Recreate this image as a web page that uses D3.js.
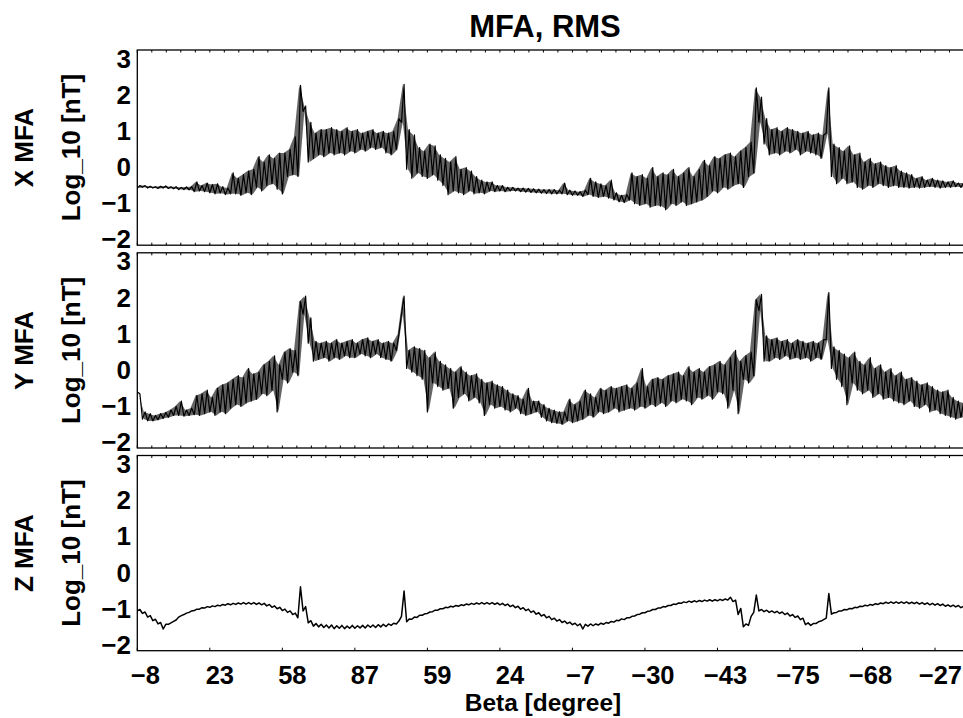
<!DOCTYPE html>
<html><head><meta charset="utf-8">
<script src="https://cdn.jsdelivr.net/npm/d3@7"></script>
<style>html,body{margin:0;padding:0;background:#fff;overflow:hidden}</style>
</head><body><svg id="c" width="963" height="718"></svg>
<script>
// ---------------- data ----------------
const chartTitle = "MFA, RMS";
const xAxisTitle = "Beta [degree]";
const yAxisUnit = "Log_10 [nT]";
const panelNames = ["X MFA", "Y MFA", "Z MFA"];
const betaLabels = ["−8","23","58","87","59","24","−7","−30","−43","−75","−68","−27"];
const yTicks = [-2, -1, 0, 1, 2, 3];
const sampleStep = 1 / 14; // tick units between samples; each sample has a low/high reading

const xMfaLow = [-0.62,-0.60,-0.62,-0.62,-0.63,-0.62,-0.63,-0.64,-0.66,-0.66,
-0.67,-0.72,-0.70,-0.72,-0.75,-0.78,-0.76,-0.80,-0.78,-0.78,
-0.82,-0.75,-0.80,-0.60,-0.70,-0.55,-0.50,-0.65,-0.78,-0.30,
-0.25,-0.30,1.50,0.10,0.20,0.30,0.25,0.35,0.30,0.35,
0.30,0.40,0.35,0.45,0.40,0.50,0.45,0.50,0.35,0.30,
0.45,1.20,-0.10,-0.35,-0.20,-0.30,-0.35,-0.25,-0.40,-0.55,
-0.80,-0.70,-0.75,-0.80,-0.70,-0.78,-0.75,-0.78,-0.70,-0.72,
-0.70,-0.72,-0.70,-0.70,-0.72,-0.73,-0.74,-0.75,-0.76,-0.77,
-0.78,-0.78,-0.78,-0.80,-0.82,-0.82,-0.85,-0.80,-0.85,-0.88,
-0.85,-0.90,-0.95,-1.00,-1.02,-0.95,-1.05,-1.10,-1.05,-1.15,
-1.10,-1.12,-1.22,-1.05,-1.10,-1.00,-1.10,-1.05,-1.00,-0.95,
-0.85,-0.70,-0.75,-0.60,-0.65,-0.55,-0.50,-0.60,-0.30,-0.20,
1.20,0.60,0.30,0.35,0.30,0.40,0.35,0.45,0.30,0.40,
0.35,0.30,0.20,0.90,-0.30,-0.50,-0.35,-0.50,-0.45,-0.60,
-0.65,-0.55,-0.60,-0.50,-0.55,-0.60,-0.55,-0.60,-0.60,-0.62,
-0.60,-0.62,-0.60,-0.58,-0.60,-0.62,-0.60,-0.60,-0.58,-0.60,
-0.58];
const xMfaHigh = [-0.55,-0.55,-0.57,-0.58,-0.57,-0.56,-0.58,-0.58,-0.60,-0.59,
-0.58,-0.45,-0.55,-0.48,-0.52,-0.50,-0.58,-0.62,-0.20,-0.35,
-0.25,-0.15,-0.10,0.25,0.10,0.30,0.20,0.35,0.35,0.45,
0.80,2.22,1.65,1.20,0.90,1.00,1.00,1.05,1.00,0.95,
1.05,0.95,1.00,0.90,0.95,1.00,0.90,0.95,0.90,0.95,
1.30,2.25,1.00,0.85,0.50,0.40,0.60,0.55,0.30,0.20,
0.10,0.25,-0.10,-0.05,-0.15,-0.30,-0.40,-0.45,-0.45,-0.55,
-0.55,-0.60,-0.60,-0.62,-0.62,-0.63,-0.64,-0.65,-0.66,-0.66,
-0.66,-0.68,-0.48,-0.68,-0.70,-0.72,-0.68,-0.35,-0.45,-0.50,
-0.55,-0.40,-0.75,-0.82,-0.80,-0.20,-0.30,-0.25,-0.35,-0.05,
-0.30,-0.20,-0.25,-0.10,-0.30,-0.20,-0.05,-0.30,-0.10,0.15,
0.00,0.25,0.20,0.30,0.35,0.25,0.40,0.50,0.65,2.15,
1.90,1.30,1.00,1.05,0.95,1.05,1.00,0.95,0.90,0.95,
0.85,0.90,0.85,2.15,0.60,0.50,0.40,0.55,0.30,0.35,
0.10,0.20,0.05,0.10,0.00,-0.05,0.00,-0.15,-0.20,-0.25,
-0.35,-0.30,-0.40,-0.35,-0.40,-0.42,-0.45,-0.42,-0.48,-0.48,
-0.50];

const yMfaLow = [-0.65,-1.40,-1.45,-1.45,-1.42,-1.38,-1.35,-1.30,-1.30,-1.32,
-1.30,-1.28,-1.30,-1.25,-1.20,-1.30,-1.20,-1.25,-1.10,-1.00,
-1.05,-0.95,-0.90,-0.85,-0.70,-0.75,-0.60,-1.20,-0.30,-0.40,
-0.10,-0.20,1.50,0.70,0.20,0.25,0.30,0.20,0.30,0.25,
0.35,0.30,0.30,0.40,0.35,0.30,0.40,0.30,0.25,0.20,
0.50,1.50,0.00,-0.10,-0.20,-0.30,-1.20,-0.40,-0.50,-0.60,
-0.55,-1.10,-0.80,-0.70,-0.90,-0.80,-0.95,-1.30,-1.00,-1.10,
-1.05,-1.15,-1.20,-1.10,-1.25,-1.30,-1.25,-1.20,-1.35,-1.45,
-1.50,-1.52,-1.55,-1.45,-1.50,-1.45,-1.40,-1.30,-1.35,-1.20,
-1.25,-1.20,-1.10,-1.20,-1.15,-1.10,-1.15,-1.05,-1.10,-1.00,
-1.05,-0.95,-1.05,-0.90,-0.95,-0.85,-0.90,-1.00,-0.80,-0.85,
-0.75,-0.85,-0.65,-0.70,-1.10,-0.60,-1.25,-0.30,-0.40,-0.20,
1.60,0.20,0.20,0.30,0.25,0.35,0.25,0.30,0.25,0.30,
0.20,0.30,0.25,0.80,0.00,-0.30,-0.50,-1.00,-0.40,-0.60,
-0.70,-0.60,-0.80,-0.70,-0.85,-0.80,-0.90,-0.95,-1.00,-0.90,
-1.05,-1.10,-1.00,-1.20,-1.15,-1.25,-1.30,-1.35,-1.40,-1.35,
-1.40];
const yMfaHigh = [-0.70,-1.20,-1.25,-1.30,-1.25,-1.22,-1.15,-1.05,-0.90,-1.15,
-1.10,-0.75,-0.70,-0.60,-0.80,-0.55,-0.45,-0.40,-0.30,-0.20,
-0.25,0.00,-0.15,-0.10,0.10,0.20,0.35,0.10,0.45,0.55,
0.50,1.85,2.00,1.40,0.75,0.70,0.75,0.70,0.80,0.70,
0.75,0.80,0.70,0.80,0.85,0.75,0.80,0.70,0.75,0.70,
0.95,2.00,0.50,0.60,0.55,0.50,0.30,0.45,0.20,0.10,
0.00,-0.10,0.05,-0.10,-0.20,-0.15,-0.30,-0.40,-0.35,-0.45,
-0.50,-0.60,-0.70,-0.75,-0.85,-0.55,-0.90,-0.90,-1.00,-1.10,
-1.15,-1.20,-1.20,-0.85,-1.00,-0.90,-0.60,-0.70,-0.80,-0.55,
-0.60,-0.50,-0.55,-0.50,-0.45,-0.55,-0.40,0.00,-0.50,-0.30,
-0.25,-0.30,-0.20,-0.15,-0.10,-0.20,0.05,-0.10,0.00,-0.10,
0.05,0.10,0.20,0.10,0.30,0.50,0.20,0.35,0.45,1.90,
2.05,0.90,0.80,0.85,0.75,0.80,0.70,0.80,0.75,0.70,
0.75,0.70,0.80,2.10,0.60,0.50,0.40,0.30,0.45,0.20,
0.10,0.30,0.00,0.10,-0.10,0.00,-0.20,-0.10,-0.30,-0.25,
-0.35,-0.45,-0.40,-0.50,-0.60,-0.65,-0.60,-0.80,-0.90,-0.95,
-1.00];

const zMfaLow = [-1.10,-1.17,-1.27,-1.37,-1.46,-1.60,-1.47,-1.39,-1.27,-1.20,
-1.14,-1.09,-1.05,-1.02,-1.00,-0.98,-0.96,-0.94,-0.93,-0.92,
-0.91,-0.91,-0.91,-0.92,-0.93,-0.96,-1.00,-1.04,-1.09,-1.14,
-1.20,-1.29,-1.10,-1.43,-1.52,-1.54,-1.56,-1.57,-1.59,-1.58,
-1.59,-1.58,-1.58,-1.57,-1.57,-1.55,-1.56,-1.54,-1.53,-1.50,
-1.46,-1.25,-1.40,-1.33,-1.28,-1.22,-1.17,-1.12,-1.08,-1.04,
-1.01,-0.99,-0.97,-0.95,-0.93,-0.92,-0.91,-0.91,-0.91,-0.92,
-0.93,-0.95,-0.98,-1.01,-1.05,-1.09,-1.14,-1.19,-1.24,-1.29,
-1.34,-1.38,-1.42,-1.45,-1.48,-1.51,-1.60,-1.52,-1.51,-1.49,
-1.47,-1.44,-1.41,-1.37,-1.34,-1.29,-1.24,-1.19,-1.15,-1.10,
-1.06,-1.02,-0.99,-0.95,-0.92,-0.89,-0.87,-0.86,-0.85,-0.84,
-0.83,-0.83,-0.82,-0.81,-0.80,-0.84,-1.20,-1.54,-1.50,-1.14,
-1.10,-1.12,-1.14,-1.15,-1.17,-1.20,-1.24,-1.28,-1.34,-1.48,
-1.50,-1.45,-1.38,-1.30,-1.19,-1.14,-1.10,-1.07,-1.04,-1.01,
-0.98,-0.96,-0.94,-0.92,-0.90,-0.89,-0.89,-0.89,-0.89,-0.90,
-0.90,-0.91,-0.92,-0.93,-0.94,-0.95,-0.97,-0.98,-0.99,-1.01,
-1.02];
const zMfaHigh = [-1.06,-1.13,-1.23,-1.33,-1.42,-1.47,-1.43,-1.35,-1.23,-1.16,
-1.10,-1.05,-1.01,-0.98,-0.96,-0.94,-0.92,-0.90,-0.89,-0.88,
-0.87,-0.87,-0.87,-0.88,-0.89,-0.92,-0.96,-1.00,-1.05,-1.10,
-1.16,-0.43,-0.98,-1.37,-1.45,-1.47,-1.49,-1.49,-1.51,-1.50,
-1.52,-1.50,-1.51,-1.50,-1.49,-1.49,-1.48,-1.47,-1.46,-1.44,
-1.38,-0.55,-1.32,-1.27,-1.22,-1.18,-1.13,-1.08,-1.04,-1.00,
-0.97,-0.95,-0.93,-0.91,-0.89,-0.88,-0.87,-0.87,-0.87,-0.88,
-0.89,-0.91,-0.94,-0.97,-1.01,-1.05,-1.10,-1.15,-1.20,-1.25,
-1.30,-1.34,-1.38,-1.41,-1.44,-1.46,-1.47,-1.46,-1.46,-1.44,
-1.42,-1.39,-1.36,-1.32,-1.29,-1.25,-1.20,-1.15,-1.11,-1.06,
-1.02,-0.98,-0.95,-0.91,-0.88,-0.85,-0.83,-0.82,-0.81,-0.80,
-0.79,-0.79,-0.78,-0.77,-0.72,-0.80,-1.03,-1.46,-1.25,-0.66,
-1.06,-1.08,-1.10,-1.11,-1.13,-1.16,-1.20,-1.24,-1.30,-1.43,
-1.45,-1.40,-1.34,-0.62,-1.15,-1.10,-1.06,-1.03,-1.00,-0.97,
-0.94,-0.92,-0.90,-0.88,-0.86,-0.85,-0.85,-0.85,-0.85,-0.86,
-0.86,-0.87,-0.88,-0.89,-0.90,-0.91,-0.93,-0.94,-0.95,-0.97,
-0.98];

const panelSeries = [[xMfaLow, xMfaHigh], [yMfaLow, yMfaHigh], [zMfaLow, zMfaHigh]];

// ---------------- drawing ----------------
const svg = d3.select("#c");
const font = "'Liberation Sans', Arial, Helvetica, sans-serif";
const plotLeft = 137.3, tickSpacing = 72.52;
const x = d3.scaleLinear().domain([0, 12]).range([plotLeft, plotLeft + tickSpacing * 12]);
const panelTops = [50, 252.8, 455.5];
const panelH = 195.2;
const fmt = v => v < 0 ? "−" + Math.abs(v) : String(v);

svg.append("text").attr("x", 545).attr("y", 37).attr("text-anchor", "middle")
  .attr("font-family", font).attr("font-weight", "bold").attr("font-size", 31).text(chartTitle);

panelTops.forEach((top, p) => {
  const y = d3.scaleLinear().domain([-2.2, 3.2]).range([top + panelH, top]);
  const g = svg.append("g");
  const cid = "clip" + p;
  svg.append("clipPath").attr("id", cid).append("rect")
    .attr("x", x(0)).attr("y", top).attr("width", x(12) - x(0)).attr("height", panelH);

  const [lo, hi] = panelSeries[p];
  if (p < 2) {
    // noise band (between low and high readings of each sample)
    const band = lo.map((v, i) => [i * sampleStep + sampleStep / 4, v, hi[i]]);
    g.append("path").datum(band).attr("clip-path", `url(#${cid})`)
      .attr("fill", "#000").attr("fill-opacity", 0.6)
      .attr("d", d3.area().x(d => x(d[0])).y0(d => y(d[1])).y1(d => y(d[2])));
  }
  // trace
  const pts = [];
  lo.forEach((v, i) => {
    pts.push([i * sampleStep, v]);
    pts.push([i * sampleStep + sampleStep / 2, hi[i]]);
  });
  g.append("path").datum(pts).attr("clip-path", `url(#${cid})`)
    .attr("fill", "none").attr("stroke", "#000").attr("stroke-width", p < 2 ? 1.2 : 1.5)
    .attr("stroke-linejoin", "round")
    .attr("d", d3.line().x(d => x(d[0])).y(d => y(d[1])));

  // frame
  g.append("rect").attr("x", x(0)).attr("y", top).attr("width", x(12) - x(0)).attr("height", panelH)
    .attr("fill", "none").attr("stroke", "#000").attr("stroke-width", 1.3);

  // minor ticks top / bottom
  const minor = d3.range(0, 61).map(k => k / 5);
  g.selectAll(".tt").data(minor).join("line")
    .attr("x1", d => x(d)).attr("x2", d => x(d)).attr("y1", top).attr("y2", top + 2.5)
    .attr("stroke", "#000").attr("stroke-width", 1);
  if (p < 2) {
    g.selectAll(".tb").data(minor).join("line")
      .attr("x1", d => x(d)).attr("x2", d => x(d)).attr("y1", top + panelH - 2.5).attr("y2", top + panelH)
      .attr("stroke", "#000").attr("stroke-width", 1);
  } else {
    g.selectAll(".tb").data(d3.range(0, 13)).join("line")
      .attr("x1", d => x(d)).attr("x2", d => x(d)).attr("y1", top + panelH - 3).attr("y2", top + panelH)
      .attr("stroke", "#000").attr("stroke-width", 1);
  }

  // y tick labels
  g.selectAll(".yl").data(yTicks).join("text")
    .attr("x", 131).attr("y", d => y(d)).attr("dy", "0.4em").attr("text-anchor", "end")
    .attr("font-family", font).attr("font-weight", "bold").attr("font-size", 26)
    .text(fmt);

  // y titles
  const cy = top + panelH / 2;
  g.append("text").attr("transform", `translate(33,${cy}) rotate(-90)`).attr("text-anchor", "middle")
    .attr("font-family", font).attr("font-weight", "bold").attr("font-size", 26).text(panelNames[p]);
  g.append("text").attr("transform", `translate(80,${cy}) rotate(-90)`).attr("text-anchor", "middle")
    .attr("font-family", font).attr("font-weight", "bold").attr("font-size", 26).text(yAxisUnit);
});

// x tick labels (kept inside the window)
svg.selectAll(".xl").data(betaLabels).join("text")
  .attr("class", "xl")
  .attr("x", (d, i) => x(i) + (d.startsWith("−") ? 8 : 10)).attr("y", 684).attr("text-anchor", "middle")
  .attr("font-family", font).attr("font-weight", "bold").attr("font-size", 25.5).text(d => d)
  .each(function () {
    const w = this.getComputedTextLength();
    const cx = +this.getAttribute("x");
    if (cx + w / 2 > 962) this.setAttribute("x", 962 - w / 2);
  });

svg.append("text").attr("x", 543).attr("y", 711).attr("text-anchor", "middle")
  .attr("font-family", font).attr("font-weight", "bold").attr("font-size", 24.5).text(xAxisTitle);
</script></body></html>
